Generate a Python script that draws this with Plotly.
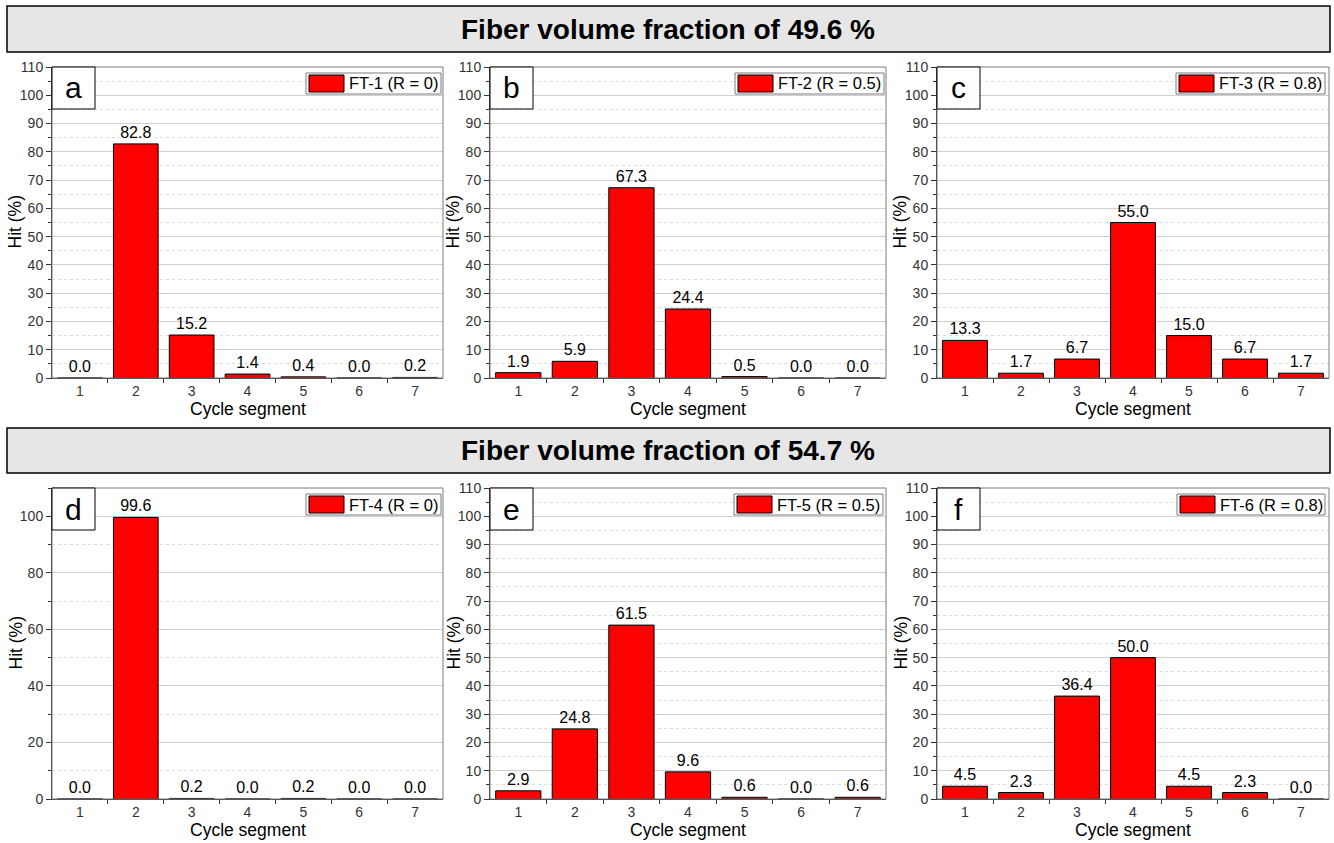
import plotly.graph_objects as go

W, H = 1334, 843

segments = [1, 2, 3, 4, 5, 6, 7]
hit_a = [0.0, 82.8, 15.2, 1.4, 0.4, 0.0, 0.2]
hit_b = [1.9, 5.9, 67.3, 24.4, 0.5, 0.0, 0.0]
hit_c = [13.3, 1.7, 6.7, 55.0, 15.0, 6.7, 1.7]
hit_d = [0.0, 99.6, 0.2, 0.0, 0.2, 0.0, 0.0]
hit_e = [2.9, 24.8, 61.5, 9.6, 0.6, 0.0, 0.6]
hit_f = [4.5, 2.3, 36.4, 50.0, 4.5, 2.3, 0.0]

series_names = ["FT-1 (R = 0)", "FT-2 (R = 0.5)", "FT-3 (R = 0.8)",
                "FT-4 (R = 0)", "FT-5 (R = 0.5)", "FT-6 (R = 0.8)"]
panel_letters = ["a", "b", "c", "d", "e", "f"]
row_titles = ["Fiber volume fraction of 49.6 %", "Fiber volume fraction of 54.7 %"]
all_hits = [hit_a, hit_b, hit_c, hit_d, hit_e, hit_f]

FONT = "Liberation Sans, Arial, sans-serif"

# pixel layout
col_px = [(52, 443), (490, 886), (937, 1329)]
row_px = [(67, 378), (488, 799)]
legend_px = [(306, 441), (735, 884), (1176, 1325), (306, 441), (734, 883), (1177, 1325)]
banner_px = [(6, 52), (428, 473)]


def px_x(p):
    return p / W


def px_y(p):
    return 1 - p / H


fig = go.Figure()
shapes = []
annotations = []

for i, hits in enumerate(all_hits):
    r, c = divmod(i, 3)
    n = i + 1
    xa = "x" if n == 1 else f"x{n}"
    ya = "y" if n == 1 else f"y{n}"
    fig.add_trace(go.Bar(
        x=segments, y=hits, xaxis=xa, yaxis=ya,
        width=0.8,
        marker=dict(color="#ff0000", line=dict(color="#000000", width=1)),
        texttemplate="%{y:.1f}", textposition="outside",
        textfont=dict(size=16, color="#000000", family=FONT),
        constraintext="none", cliponaxis=False,
        showlegend=False, name=series_names[i],
    ))
    x0, x1 = col_px[c]
    y0, y1 = row_px[r]
    xdom = [px_x(x0), px_x(x1)]
    ydom = [px_y(y1), px_y(y0)]
    is_d = (i == 3)
    ymaj = 20 if is_d else 10
    yaxis = dict(
        domain=ydom, anchor=xa, range=[0, 110],
        tickmode="linear", tick0=0, dtick=ymaj,
        ticks="outside", ticklen=5, tickwidth=1, tickcolor="#333",
        tickfont=dict(size=14, color="#333", family=FONT),
        showline=True, linecolor="#333", linewidth=1,
        showgrid=True, gridcolor="#cfcfcf", gridwidth=1,
        zeroline=False, automargin=False,
        minor=dict(tick0=0, dtick=ymaj / 2, ticks="outside", ticklen=3,
                   tickcolor="#333", showgrid=True, gridcolor="#dcdcdc",
                   griddash="dot", gridwidth=1),
    )
    xaxis = dict(
        domain=xdom, anchor=ya, range=[0.5, 7.5],
        tickmode="array", tickvals=segments, ticktext=[str(s) for s in segments],
        ticks="", tickfont=dict(size=14, color="#333", family=FONT),
        showline=True, linecolor="#333", linewidth=1,
        showgrid=False, zeroline=False, automargin=False,
        minor=dict(tickmode="array", tickvals=[1.5, 2.5, 3.5, 4.5, 5.5, 6.5],
                   ticks="outside", ticklen=4, tickcolor="#333", showgrid=False),
    )
    fig.layout["xaxis" if n == 1 else f"xaxis{n}"] = xaxis
    fig.layout["yaxis" if n == 1 else f"yaxis{n}"] = yaxis

    xd = f"{xa} domain"
    yd = f"{ya} domain"
    # frame
    shapes.append(dict(type="rect", xref=xd, yref=yd, x0=0, x1=1, y0=0, y1=1,
                       line=dict(color="#7a7a7a", width=1), layer="above"))
    # panel letter box
    pw = x1 - x0
    ph = y1 - y0
    shapes.append(dict(type="rect", xref=xd, yref=yd, x0=0, x1=43 / pw,
                       y0=1 - 42 / ph, y1=1, fillcolor="white",
                       line=dict(color="#000", width=1), layer="above"))
    annotations.append(dict(text=panel_letters[i], xref=xd, yref=yd,
                            x=21.5 / pw, y=1 - 21 / ph, showarrow=False,
                            xanchor="center", yanchor="middle",
                            font=dict(size=30, color="#000", family=FONT)))
    # legend box
    lx0, lx1 = legend_px[i]
    ly0 = y0 + 6
    ly1 = y0 + 27
    shapes.append(dict(type="rect", xref="paper", yref="paper",
                       x0=px_x(lx0), x1=px_x(lx1), y0=px_y(ly1), y1=px_y(ly0),
                       fillcolor="white", line=dict(color="#7a7a7a", width=1),
                       layer="above"))
    shapes.append(dict(type="rect", xref="paper", yref="paper",
                       x0=px_x(lx0 + 3), x1=px_x(lx0 + 38),
                       y0=px_y(ly1 - 2), y1=px_y(ly0 + 2),
                       fillcolor="#ff0000", line=dict(color="#000", width=1),
                       layer="above"))
    annotations.append(dict(text=series_names[i], xref="paper", yref="paper",
                            x=px_x(lx0 + 41), y=px_y((ly0 + ly1) / 2),
                            xanchor="left", yanchor="middle", showarrow=False,
                            font=dict(size=16.5, color="#000", family=FONT)))
    # axis titles
    annotations.append(dict(text="Hit (%)", xref="paper", yref="paper",
                            x=px_x(x0 - 37), y=px_y((y0 + y1) / 2),
                            textangle=-90, showarrow=False,
                            xanchor="center", yanchor="middle",
                            font=dict(size=17.5, color="#000", family=FONT)))
    annotations.append(dict(text="Cycle segment", xref="paper", yref="paper",
                            x=px_x((x0 + x1) / 2), y=px_y(y1 + 31),
                            showarrow=False, xanchor="center", yanchor="middle",
                            font=dict(size=17.5, color="#000", family=FONT)))

for k, (b0, b1) in enumerate(banner_px):
    shapes.append(dict(type="rect", xref="paper", yref="paper",
                       x0=px_x(7), x1=px_x(1330), y0=px_y(b1), y1=px_y(b0),
                       fillcolor="#e6e6e6", line=dict(color="#000", width=1.5)))
    annotations.append(dict(text=f"<b>{row_titles[k]}</b>", xref="paper", yref="paper",
                            x=px_x(668), y=px_y((b0 + b1) / 2), showarrow=False,
                            xanchor="center", yanchor="middle",
                            font=dict(size=28, color="#000", family=FONT)))

fig.update_layout(
    width=W, height=H,
    margin=dict(l=0, r=0, t=0, b=0, pad=0, autoexpand=False),
    paper_bgcolor="white", plot_bgcolor="white",
    font=dict(family=FONT), shapes=shapes, annotations=annotations,
    bargap=0.2,
)

fig.write_html("out.html", include_plotlyjs=True,
               config={"displayModeBar": False},
               post_script="document.body.style.margin='0';document.body.style.overflow='hidden';")
